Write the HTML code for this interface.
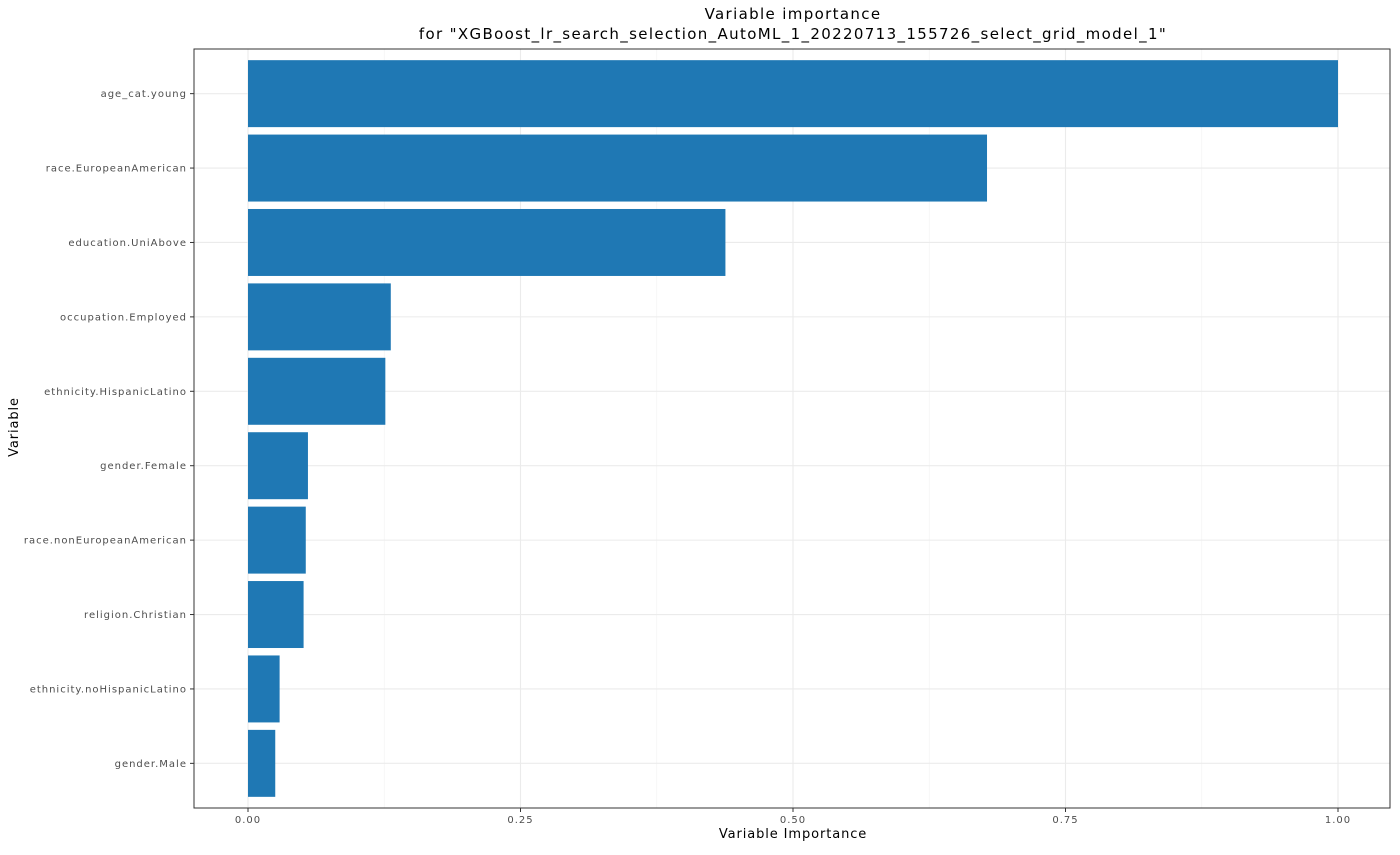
<!DOCTYPE html>
<html><head><meta charset="utf-8"><style>
body{margin:0;background:#fff;}
svg text{font-family:"DejaVu Sans","Liberation Sans",sans-serif;}
</style></head><body>
<svg id="chart" width="1400" height="850" xmlns="http://www.w3.org/2000/svg">
<text x="793" y="19" font-size="15" letter-spacing="1.35" text-anchor="middle" fill="#000">Variable importance</text>
<text x="793" y="39" font-size="15" letter-spacing="1.35" text-anchor="middle" fill="#000">for "XGBoost_lr_search_selection_AutoML_1_20220713_155726_select_grid_model_1"</text>
<g id="plot"></g>
<text x="793" y="838" font-size="13" letter-spacing="0.9" text-anchor="middle" fill="#000">Variable Importance</text>
<text x="18" y="427" font-size="13" letter-spacing="0.9" text-anchor="middle" fill="#000" transform="rotate(-90 18 427)">Variable</text>
</svg>
<script>
const categories=["age_cat.young","race.EuropeanAmerican","education.UniAbove","occupation.Employed","ethnicity.HispanicLatino","gender.Female","race.nonEuropeanAmerican","religion.Christian","ethnicity.noHispanicLatino","gender.Male"];
const values=[1.0,0.678,0.438,0.131,0.126,0.055,0.053,0.051,0.029,0.025];
const xTicks=[0,0.25,0.5,0.75,1.0];
const xTickLabels=["0.00","0.25","0.50","0.75","1.00"];
const NS="http://www.w3.org/2000/svg";
const L=194,R=1390,T=49,B=808;
const x0=248,x1=1338;
function xs(v){return x0+(x1-x0)*v;}
const step=(B-T)/(categories.length+0.2);
function ys(i){return T+step*(0.6+i);}
const g=document.getElementById('plot');
function mk(tag,attrs){const e=document.createElementNS(NS,tag);for(const k in attrs)e.setAttribute(k,attrs[k]);g.appendChild(e);return e;}
for(let i=0;i<xTicks.length-1;i++){const m=(xTicks[i]+xTicks[i+1])/2;
const e=mk('line',{x1:xs(m),x2:xs(m),y1:T,y2:B,stroke:'#f2f2f2','stroke-width':0.7});

}
xTicks.forEach((t,i)=>{
const e=mk('line',{x1:xs(t),x2:xs(t),y1:T,y2:B,stroke:'#ebebeb','stroke-width':1.1});


const tk=mk('line',{x1:xs(t),x2:xs(t),y1:B,y2:B+4,stroke:'#333','stroke-width':1});


const tx=mk('text',{x:xs(t),y:B+15,'font-size':10,'text-anchor':'middle',fill:'#4d4d4d','letter-spacing':'1'});
tx.textContent=xTickLabels[i];


});
categories.forEach((c,i)=>{
const y=ys(i);
const e=mk('line',{x1:L,x2:R,y1:y,y2:y,stroke:'#ebebeb','stroke-width':1.1});


});
categories.forEach((c,i)=>{
const y=ys(i),h=step*0.9;
const b=mk('rect',{x:xs(0),y:y-h/2,width:xs(values[i])-xs(0),height:h,fill:'#1f78b4'});


const tk=mk('line',{x1:L-4,x2:L,y1:y,y2:y,stroke:'#333','stroke-width':1});


const tx=mk('text',{x:L-7,y:y+3.5,'font-size':10,'text-anchor':'end',fill:'#4d4d4d','letter-spacing':'1'});
tx.textContent=c;


});
const fr=mk('rect',{x:L,y:T,width:R-L,height:B-T,fill:'none',stroke:'#333','stroke-width':1});


</script>
</body></html>
